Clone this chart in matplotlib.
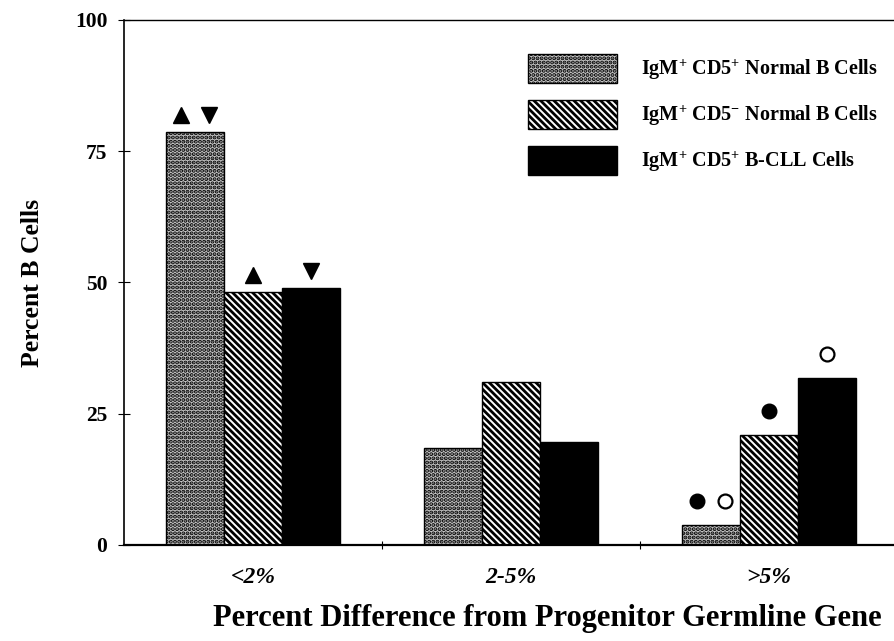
import numpy as np
import matplotlib
matplotlib.use("Agg")
import matplotlib.pyplot as plt
from matplotlib.ticker import FixedLocator

plt.rcParams['font.family'] = ['Liberation Serif', 'DejaVu Serif']
plt.rcParams['font.weight'] = 'bold'
plt.rcParams['mathtext.fontset'] = 'custom'
plt.rcParams['mathtext.rm'] = 'Liberation Serif:bold'
plt.rcParams['mathtext.default'] = 'rm'
plt.rcParams['hatch.linewidth'] = 2.0

# data
groups = ['<2%', '2-5%', '>5%']
series = ['IgM$^{+}$ CD5$^{+}$ Normal B Cells',
          'IgM$^{+}$ CD5$^{-}$ Normal B Cells',
          'IgM$^{+}$ CD5$^{+}$ B-CLL Cells']
cd5_pos_normal = [78.7, 18.5, 3.8]
cd5_neg_normal = [48.2, 31.0, 21.0]
b_cll = [49.0, 19.6, 31.8]

# significance symbols: (group, series, symbol)
symbols = [(0, 0, '^'), (0, 0, 'v'), (0, 1, '^'), (0, 2, 'v'),
           (2, 0, 'o'), (2, 0, 'O'), (2, 1, 'o'), (2, 2, 'O')]

values = [cd5_pos_normal, cd5_neg_normal, b_cll]
faces = ['#c4c4c4', 'white', 'black']
hatches = ['....', '\\\\\\\\\\', None]

fig = plt.figure(figsize=(8.95, 6.41), dpi=100)
ax = fig.add_axes([0.1385, 0.1498, 0.865, 0.819])

x = np.arange(len(groups))
w = 0.225
for i, vals in enumerate(values):
    ax.bar(x + (i - 1) * w, vals, w, facecolor=faces[i], edgecolor='black',
           hatch=hatches[i], linewidth=1.0, label=series[i])

# markers above bars
for g, s, sym in symbols:
    same = [t for t in symbols if t[0] == g and t[1] == s]
    k = same.index((g, s, sym))
    off = 0.0 if len(same) == 1 else (-0.055 if k == 0 else 0.055)
    xx = x[g] + (s - 1) * w + off
    h = values[s][g]
    if sym in '^v':
        ax.plot(xx, h + 3.2, marker=sym, color='black', markersize=11, ls='none')
    elif sym == 'o':
        ax.plot(xx, h + 4.5, marker='o', color='black', markersize=10.5, ls='none')
    else:
        ax.plot(xx, h + 4.5, marker='o', mfc='white', mec='black', mew=1.6,
                markersize=10, ls='none')

ax.set_xlim(-0.5, 2.5)
ax.set_ylim(0, 100)
ax.set_yticks([0, 25, 50, 75, 100])
ax.tick_params(axis='y', direction='inout', length=8, width=0.8, labelsize=15.5, pad=8)
ax.set_xticks(x)
ax.set_xticklabels(groups, fontsize=17, style='italic', fontweight='bold')
ax.tick_params(axis='x', which='major', length=0, pad=16)
ax.xaxis.set_minor_locator(FixedLocator([0.5, 1.5]))
ax.tick_params(axis='x', which='minor', direction='inout', length=6, width=0.8)

ax.spines['right'].set_visible(False)
ax.spines['top'].set_linestyle((0, (1, 1)))
ax.spines['left'].set_linestyle((0, (1, 1)))
ax.spines['top'].set_linewidth(1.0)
ax.spines['left'].set_linewidth(1.2)
ax.spines['bottom'].set_linewidth(1.6)

ax.set_ylabel('Percent B Cells', fontsize=18.5, fontweight='bold', labelpad=22)
fig.text(0.612, 0.035, 'Percent Difference from Progenitor Germline Gene',
         fontsize=22, fontweight='bold', ha='center', va='center')

ax.legend(loc='upper left', bbox_to_anchor=(0.522, 0.935), frameon=False,
          fontsize=14.5, handlelength=4.4, handleheight=1.8, labelspacing=0.87,
          handletextpad=1.2, borderpad=0, borderaxespad=0)

plt.savefig('out.png', dpi=100)
